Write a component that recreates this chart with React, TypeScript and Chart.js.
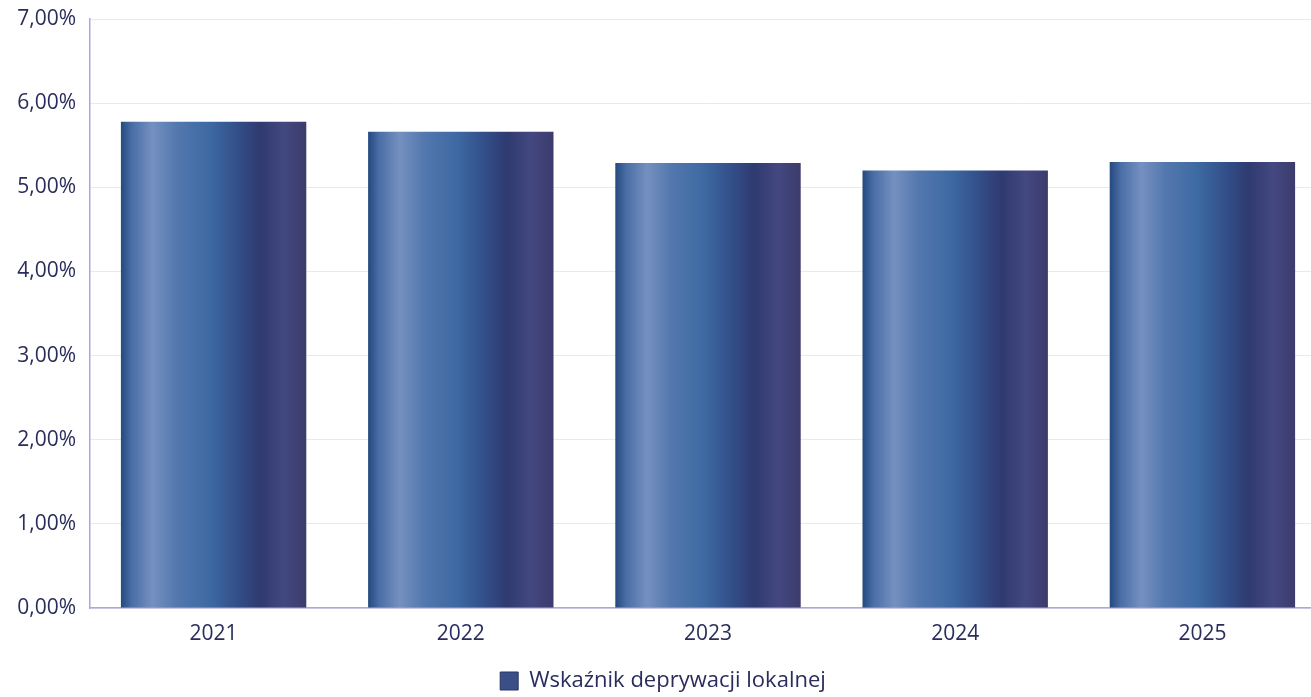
import React, { useEffect, useRef } from "react";
import { Chart, registerables } from "chart.js";

Chart.register(...registerables);

const years = ["2021", "2022", "2023", "2024", "2025"];
const deprivation = [5.78, 5.66, 5.29, 5.2, 5.3];
const seriesLabel = "Wskaźnik deprywacji lokalnej";
const yTicks = [0, 1, 2, 3, 4, 5, 6, 7];

const TEXT = "#2a2d5c";
const FONT = "'Open Sans', 'Noto Sans', sans-serif";

const gradientStops: [number, string][] = [
  [0, "#24497f"],
  [0.06, "#4a6ea6"],
  [0.17, "#7590c0"],
  [0.3, "#5378ae"],
  [0.48, "#3d69a2"],
  [0.62, "#33508a"],
  [0.75, "#2f3a70"],
  [0.88, "#434880"],
  [1, "#3c3b6c"],
];

export default function App() {
  const ref = useRef<HTMLCanvasElement | null>(null);

  useEffect(() => {
    if (!ref.current) return;
    const chart = new Chart(ref.current, {
      type: "bar",
      data: {
        labels: years,
        datasets: [
          {
            label: seriesLabel,
            data: deprivation,
            categoryPercentage: 1,
            barPercentage: 0.75,
            borderWidth: 0,
            backgroundColor: (c: any) => {
              const ch = c.chart;
              const xs = ch.scales && ch.scales.x;
              if (!ch.chartArea || !xs || c.dataIndex === undefined) return "#34457e";
              const center = xs.getPixelForValue(c.dataIndex);
              const w = (xs.width / years.length) * 0.75;
              const g = ch.ctx.createLinearGradient(center - w / 2, 0, center + w / 2, 0);
              gradientStops.forEach(([o, col]) => g.addColorStop(o, col));
              return g;
            },
          },
        ],
      },
      options: {
        animation: false,
        responsive: false,
        maintainAspectRatio: false,
        layout: { padding: { top: 19, left: 0, right: 0, bottom: -5 } },
        plugins: {
          tooltip: { enabled: false },
          legend: {
            position: "bottom",
            labels: {
              color: TEXT,
              font: { family: FONT, size: 22 },
              boxWidth: 18,
              boxHeight: 18,
              padding: 3,
              generateLabels: () => [
                {
                  text: seriesLabel,
                  fillStyle: "#3a4f88",
                  strokeStyle: "#2a3566",
                  lineWidth: 1,
                  fontColor: TEXT,
                  datasetIndex: 0,
                  hidden: false,
                },
              ],
            },
          },
        },
        scales: {
          x: {
            grid: { display: false, drawTicks: false },
            border: { display: true, color: "#a9a8d8", width: 1.5 },
            ticks: { color: TEXT, font: { family: FONT, size: 21 }, padding: 13 },
            afterFit: (s: any) => {
              s.height = 59;
            },
          },
          y: {
            min: 0,
            max: 7,
            afterBuildTicks: (s: any) => {
              s.ticks = yTicks.map((v) => ({ value: v }));
            },
            grid: { color: "rgba(228,228,236,0.8)", drawTicks: false },
            border: { display: true, color: "#a9a8d8", width: 1.5 },
            ticks: {
              color: TEXT,
              font: { family: FONT, size: 21 },
              padding: 14,
              callback: (v: any) => Number(v).toFixed(2).replace(".", ",") + "%",
            },
            afterFit: (s: any) => {
              s.width = 90;
              s.paddingTop = 0;
            },
          },
        },
      },
    });
    return () => chart.destroy();
  }, []);

  return (
    <div
      style={{
        position: "absolute",
        left: 0,
        top: 0,
        width: 1311,
        height: 697,
        overflow: "hidden",
        background: "#fff",
      }}
    >
      <canvas ref={ref} width={1326} height={697} style={{ display: "block" }} />
    </div>
  );
}
